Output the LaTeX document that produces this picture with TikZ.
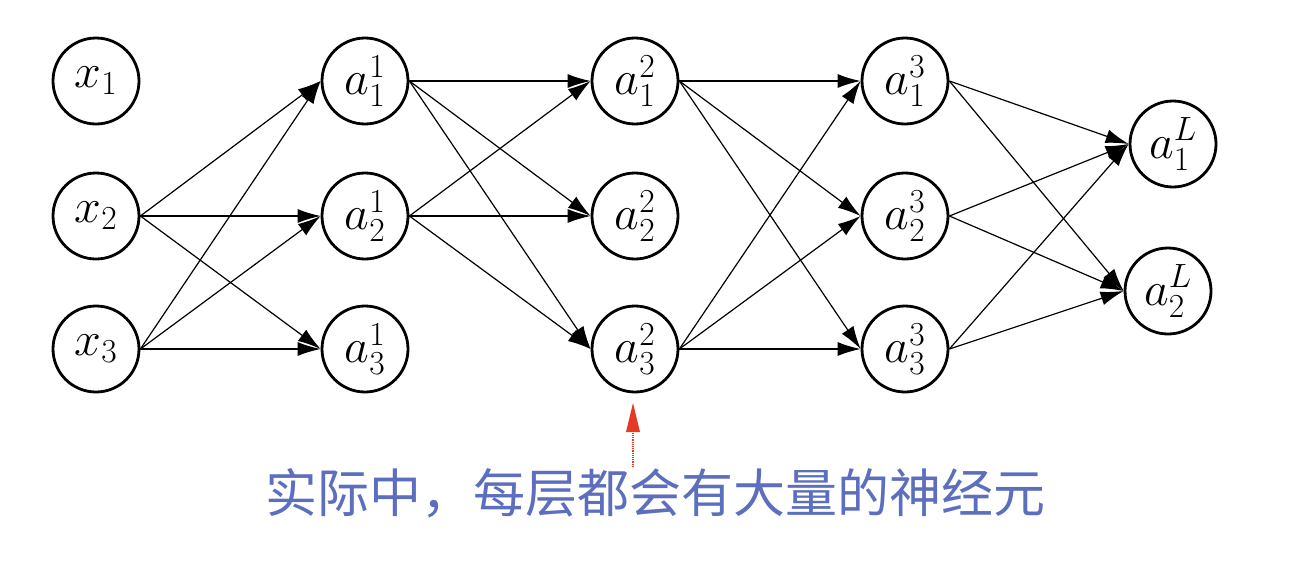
\RequirePackage{fix-cm}
\documentclass[tikz,border=0pt]{standalone}
\usepackage{fontspec}
\usetikzlibrary{arrows.meta}
\newfontfamily\cjk{Noto Sans CJK SC}
\definecolor{captionblue}{RGB}{92,110,190}
\definecolor{pointred}{RGB}{228,58,38}
\begin{document}
\begin{tikzpicture}[x=1pt,y=-1pt,
  neuron/.style={circle,draw,line width=2.8pt,minimum size=86pt,inner sep=0pt,
    font=\fontsize{48}{52}\selectfont},
  link/.style={line width=1.2pt,-{Latex[length=23pt,width=14pt]}}]
\useasboundingbox (0,0) rectangle (1290,576);
% input layer
\node[neuron] (x1) at (96,81) {$x_1$};
\node[neuron] (x2) at (96,216) {$x_2$};
\node[neuron] (x3) at (96,349) {$x_3$};
% layer 1
\node[neuron] (a11) at (365,81) {$a_1^1$};
\node[neuron] (a21) at (365,216) {$a_2^1$};
\node[neuron] (a31) at (365,349) {$a_3^1$};
% layer 2
\node[neuron] (a12) at (635,81) {$a_1^2$};
\node[neuron] (a22) at (635,216) {$a_2^2$};
\node[neuron] (a32) at (635,349) {$a_3^2$};
% layer 3
\node[neuron] (a13) at (905,81) {$a_1^3$};
\node[neuron] (a23) at (905,216) {$a_2^3$};
\node[neuron] (a33) at (905,349) {$a_3^3$};
% output layer
\node[neuron] (a1L) at (1173,144) {$a_1^L$};
\node[neuron] (a2L) at (1168,291) {$a_2^L$};
% connections
\foreach \s in {x2,x3}{\foreach \t in {a11,a21,a31}{\draw[link] (\s.east) -- (\t.west);}}
\foreach \s in {a11,a21}{\foreach \t in {a12,a22,a32}{\draw[link] (\s.east) -- (\t.west);}}
\foreach \s in {a12,a32}{\foreach \t in {a13,a23,a33}{\draw[link] (\s.east) -- (\t.west);}}
\foreach \s in {a13,a23,a33}{\foreach \t in {a1L,a2L}{\draw[link] (\s.east) -- (\t.west);}}
% caption
\node[text=captionblue,font=\cjk\fontsize{52}{56}\selectfont,inner sep=0pt] (cap) at (655,493) {实际中，每层都会有大量的神经元};
\coordinate (tail) at (633,467);
\coordinate (tip) at (633,403);
\draw[pointred,line width=1.2pt,densely dotted] (tail) -- (633,430);
\fill[pointred] (tip) -- (626,432) -- (640,432) -- cycle;
\end{tikzpicture}
\end{document}
